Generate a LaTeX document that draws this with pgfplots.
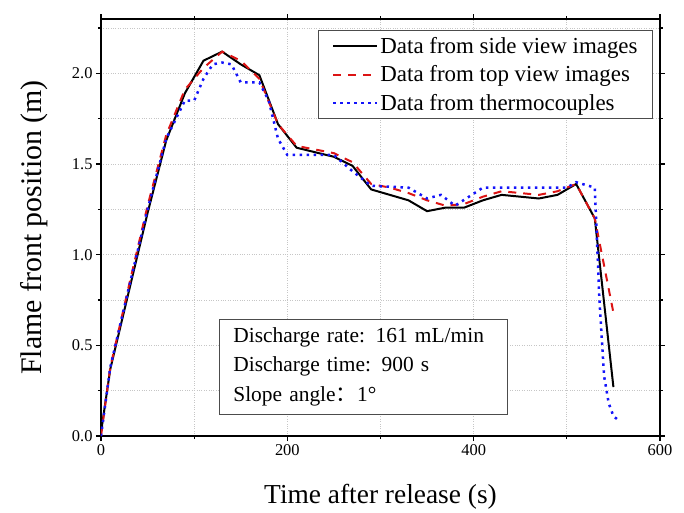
\documentclass[border=0pt]{standalone}
\usepackage{fontspec}
\setmainfont{Liberation Serif}
\newfontfamily\cjk{Noto Sans CJK SC}
\usepackage{pgfplots}
\pgfplotsset{compat=1.18}

\definecolor{myred}{RGB}{220,20,20}
\definecolor{myblue}{RGB}{20,20,250}

\begin{document}
\begin{tikzpicture}
\begin{axis}[
    scale only axis,
    width=559bp, height=417bp,
    xmin=0, xmax=600, ymin=0, ymax=2.3,
    xtick={0,200,400,600},
    minor xtick={100,300,500},
    ytick={0,0.5,1.0,1.5,2.0},
    minor ytick={0.25,0.75,1.25,1.75,2.25},
    yticklabel style={/pgf/number format/.cd,fixed,fixed zerofill,precision=1},
    /pgf/number format/assume math mode=true,
    ticklabel style={font=\fontsize{16.5}{19}\selectfont},
    tick align=outside,
    major tick length=5bp, minor tick length=3bp,
    every tick/.style={black, line width=1.2bp},
    axis line style={line width=1.5bp},
    grid=both,
    major grid style={gray!45, dotted, line width=0.8bp},
    minor grid style={gray!45, dotted, line width=0.8bp},
    xlabel={Time after release (s)},
    ylabel={Flame front position (m)},
    xlabel style={font=\fontsize{27.5}{30}\selectfont, yshift=-22bp},
    ylabel style={font=\fontsize{30}{32}\selectfont, yshift=17bp},
    legend style={at={(0.9875,0.9745)}, anchor=north east,
        draw=black!70, line width=1bp,
        font=\fontsize{23}{29}\selectfont,
        row sep=7bp,
        inner xsep=13bp, inner ysep=5bp},
    legend cell align=left,
    legend image code/.code={\draw[#1] (0bp,0bp) -- (44bp,0bp);},
]
\addplot[black, line width=2bp] coordinates {
(0,0.02) (10,0.37) (30,0.80) (50,1.23) (70,1.63) (90,1.89) (110,2.07)
(130,2.12) (150,2.05) (170,1.99) (190,1.72) (210,1.59) (230,1.565)
(250,1.54) (270,1.49) (290,1.36) (310,1.33) (330,1.30) (350,1.24)
(370,1.26) (390,1.26) (410,1.30) (430,1.33) (450,1.32) (470,1.31)
(490,1.33) (510,1.39) (530,1.20) (550,0.27)
};
\addlegendentry{Data from side view images}
\addplot[myred, line width=2bp, dash pattern=on 8bp off 7bp] coordinates {
(0,0.0) (10,0.38) (30,0.83) (50,1.27) (70,1.66) (90,1.91) (110,2.03)
(130,2.12) (150,2.07) (170,1.97) (190,1.72) (210,1.60) (230,1.58)
(250,1.56) (270,1.51) (290,1.39) (310,1.37) (330,1.34) (350,1.30)
(370,1.27) (390,1.28) (410,1.32) (430,1.35) (450,1.34) (470,1.33)
(490,1.35) (510,1.39) (530,1.20) (550,0.68)
};
\addlegendentry{Data from top view images}
\addplot[myblue, line width=2.5bp, dash pattern=on 2.5bp off 4.5bp] coordinates {
(0,0.0) (10,0.38) (30,0.82) (50,1.25) (70,1.64) (90,1.85) (100,1.85)
(110,1.97) (120,2.05) (130,2.06) (140,2.05) (150,1.95) (170,1.95)
(180,1.85) (190,1.64) (200,1.55) (250,1.55) (270,1.46) (290,1.38)
(330,1.37) (350,1.31) (365,1.33) (380,1.27) (395,1.32) (410,1.37)
(500,1.37) (510,1.40) (530,1.37) (535,0.75) (540,0.33) (545,0.18)
(550,0.11) (557,0.08)
};
\addlegendentry{Data from thermocouples}
\node[draw=black!70, line width=1bp, fill=white, anchor=north west,
      text width=260bp, inner xsep=14bp, inner ysep=8bp, align=left,
      font=\fontsize{21.5}{30}\selectfont]
  at (axis cs:126.5,0.647)
  {Discharge rate: 161 mL/min\\Discharge time: 900 s\\Slope angle{\cjk ：}1°};
\end{axis}
\path (current axis.south west) ++(-101bp,-74bp) rectangle ++(684bp,510bp);
\end{tikzpicture}
\end{document}
